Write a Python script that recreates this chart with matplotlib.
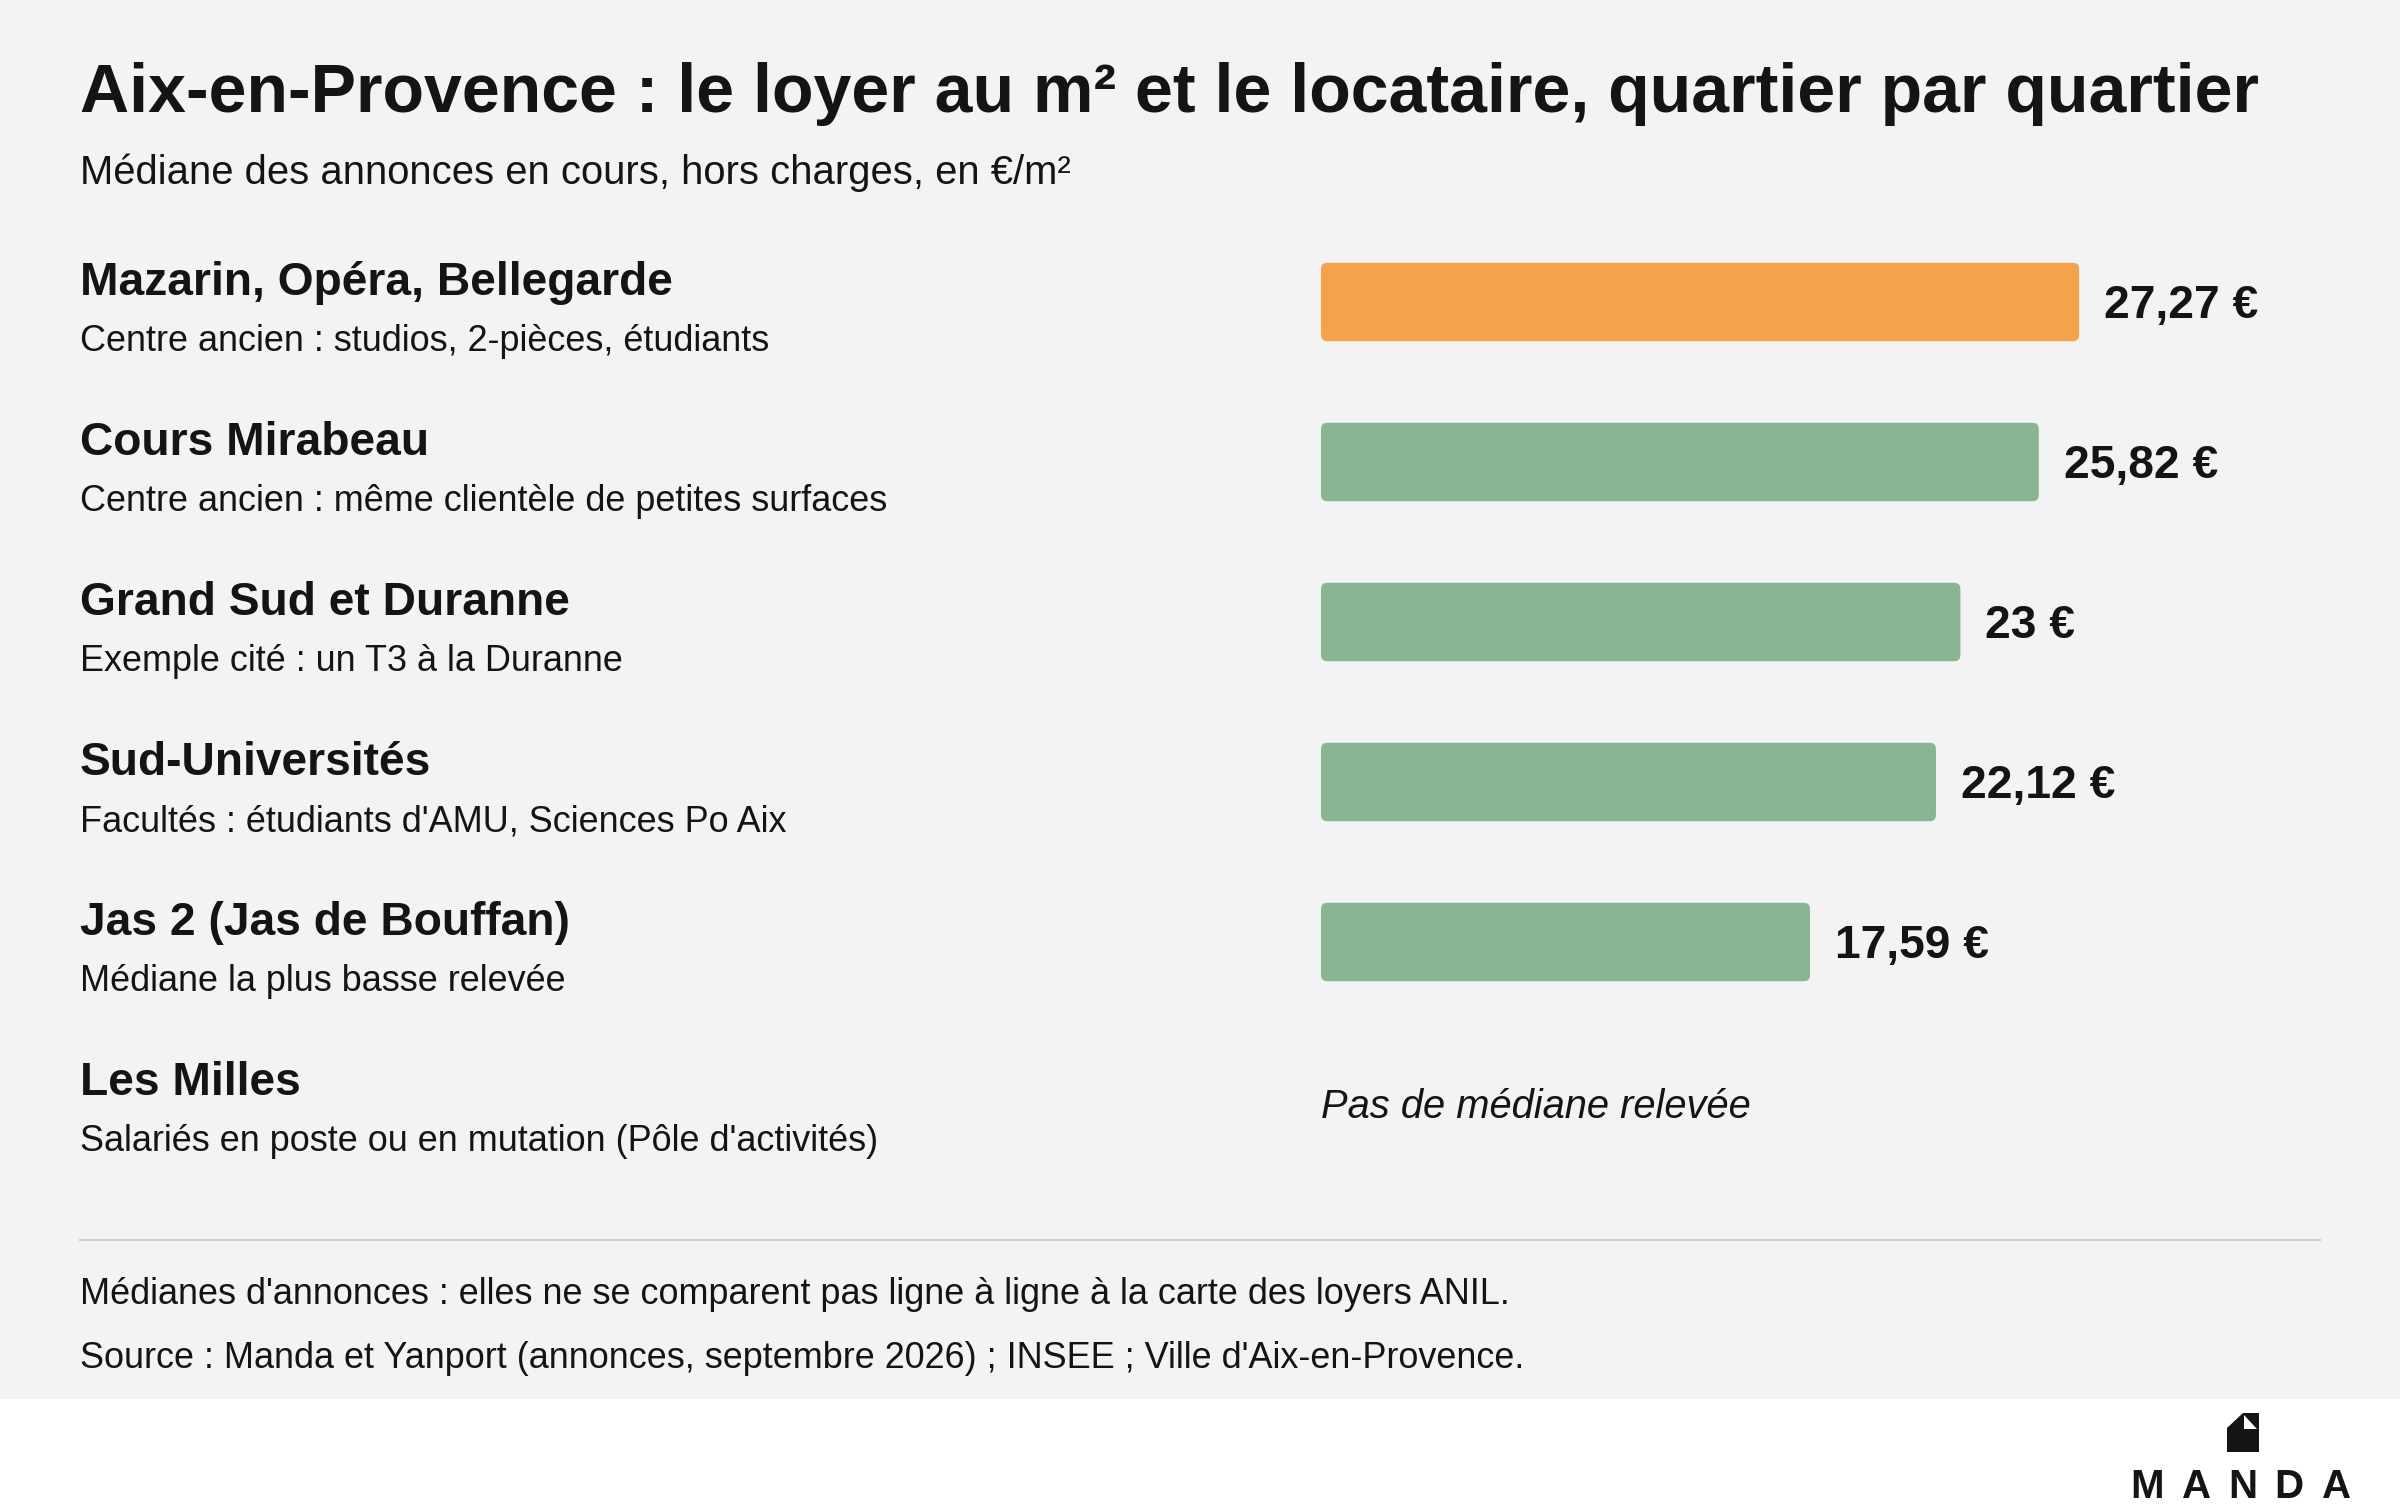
import numpy as np
import matplotlib.pyplot as plt
from matplotlib.patches import FancyBboxPatch, Rectangle, Polygon

### Data
quartiers = ["Mazarin, Opéra, Bellegarde", "Cours Mirabeau", "Grand Sud et Duranne",
             "Sud-Universités", "Jas 2 (Jas de Bouffan)", "Les Milles"]
details = ["Centre ancien : studios, 2-pièces, étudiants",
           "Centre ancien : même clientèle de petites surfaces",
           "Exemple cité : un T3 à la Duranne",
           "Facultés : étudiants d'AMU, Sciences Po Aix",
           "Médiane la plus basse relevée",
           "Salariés en poste ou en mutation (Pôle d'activités)"]
loyers = [27.27, 25.82, 23.0, 22.12, 17.59, None]   # None = pas de médiane
highlight = [True, False, False, False, False, False]

title = "Aix-en-Provence : le loyer au m² et le locataire, quartier par quartier"
subtitle = "Médiane des annonces en cours, hors charges, en €/m²"
missing_text = "Pas de médiane relevée"
notes = ["Médianes d'annonces : elles ne se comparent pas ligne à ligne à la carte des loyers ANIL.",
         "Source : Manda et Yanport (annonces, septembre 2026) ; INSEE ; Ville d'Aix-en-Provence."]

### Style
BG = "#f3f3f3"
INK = "#141414"
ORANGE = "#f5a24c"
GREEN = "#88b592"
FONT = "Liberation Sans"

W, H = 2400, 1512
fig = plt.figure(figsize=(24, 15.12), dpi=100, facecolor="white")

def fy(px):
    # pixel from top -> figure fraction
    return 1 - px / H

# gray panel behind everything except the logo strip
fig.patches.append(Rectangle((0, fy(1399)), 1, 1399 / H, transform=fig.transFigure,
                             facecolor=BG, edgecolor="none", zorder=-10))

fig.text(80 / W, fy(112), title, fontsize=49, fontweight="bold", family=FONT,
         color=INK, va="baseline")
fig.text(80 / W, fy(184.5), subtitle, fontsize=28.8, family=FONT, color=INK, va="baseline")

# bar axes: x in €, y = row index
n = len(quartiers)
row_px = 160
top_px = 302 - row_px / 2
ax = fig.add_axes([1321 / W, fy(top_px + n * row_px), 1000 / W, n * row_px / H])
ax.set_xlim(0, 1000 / 27.8)
ax.set_ylim(n - 0.5, -0.5)
ax.axis("off")

ys = np.arange(n)
vals = [v if v is not None else 0 for v in loyers]
colors = [ORANGE if h else GREEN for h in highlight]
bars = ax.barh(ys, vals, height=0.49, color=colors)

# swap plain bars for rounded ones
aspect = (1 / row_px) / (1 / 27.8)
for b, v in zip(bars, loyers):
    b.remove()
    if v is None:
        continue
    ax.add_patch(FancyBboxPatch((b.get_x(), b.get_y()), b.get_width(), b.get_height(),
                                boxstyle="round,pad=0,rounding_size=0.22",
                                mutation_aspect=aspect, facecolor=b.get_facecolor(),
                                edgecolor="none"))

for i, v in enumerate(loyers):
    if v is None:
        ax.text(0, i + 0.097, missing_text, fontsize=28.7, style="italic", family=FONT,
                color=INK, va="baseline")
    else:
        lab = f"{v:.2f}".rstrip("0").rstrip(".").replace(".", ",") + " €"
        ax.annotate(lab, (v, i + 0.1), xytext=(18, 0), textcoords="offset points",
                    fontsize=33.2, fontweight="bold", family=FONT, color=INK, va="baseline")

# left column labels
for i, (q, d) in enumerate(zip(quartiers, details)):
    fig.text(80 / W, fy(295 + i * row_px), q, fontsize=33.2, fontweight="bold",
             family=FONT, color=INK, va="baseline")
    fig.text(80 / W, fy(351 + i * row_px), d, fontsize=25.9, family=FONT, color=INK,
             va="baseline")

# footer
fig.add_artist(plt.Line2D([80 / W, 2320 / W], [fy(1240), fy(1240)], color="#cbcbcb",
                          lw=1.5, transform=fig.transFigure))
fig.text(80 / W, fy(1304), notes[0], fontsize=25.9, family=FONT, color=INK, va="baseline")
fig.text(80 / W, fy(1368), notes[1], fontsize=25.9, family=FONT, color=INK, va="baseline")

# logo: folded page + wordmark
def px(x, y):
    return (x / W, fy(y))

fig.patches.append(Polygon([px(2227, 1452), px(2227, 1428), px(2243, 1413), px(2259, 1413),
                            px(2259, 1452)], closed=True, transform=fig.transFigure,
                           facecolor="#151515", edgecolor="none"))
fig.patches.append(Polygon([px(2243.5, 1414.5), px(2243.5, 1428.5), px(2257, 1428.5)],
                           closed=True, transform=fig.transFigure,
                           facecolor="white", edgecolor="none"))
for ch, lx in zip("MANDA", [2130, 2182, 2228, 2274, 2322]):
    fig.text(lx / W, fy(1498), ch, fontsize=29, fontweight="bold", family=FONT,
             color="#151515", ha="left", va="baseline")

plt.savefig("out.png", dpi=100, facecolor=fig.get_facecolor())
